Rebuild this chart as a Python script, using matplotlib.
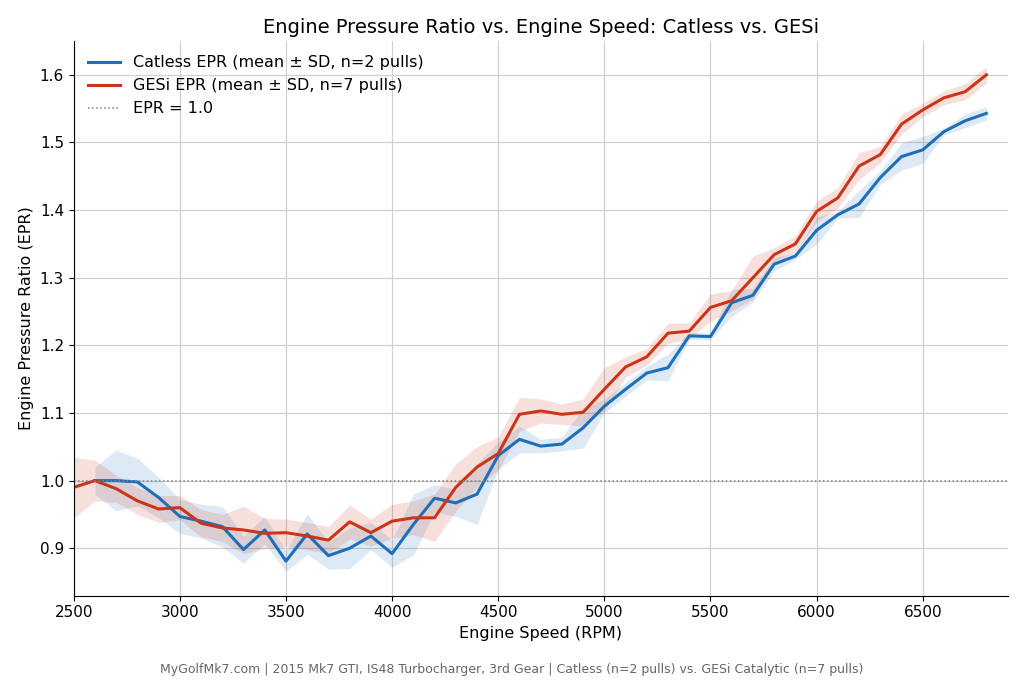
#!/usr/bin/env python3
"""EPR vs engine speed: Catless vs GESi."""

import matplotlib

matplotlib.use("Agg")

import matplotlib.pyplot as plt
import numpy as np

CATLESS_RPM = list(range(2600, 6900, 100))
CATLESS_EPR = [1.0, 1.0, 0.998, 0.975, 0.947, 0.94, 0.932, 0.898, 0.927, 0.881,
               0.921, 0.889, 0.9, 0.918, 0.892, 0.935, 0.974, 0.967, 0.98, 1.037,
               1.061, 1.051, 1.054, 1.078, 1.11, 1.135, 1.159, 1.167, 1.214, 1.213,
               1.263, 1.274, 1.32, 1.332, 1.37, 1.393, 1.409, 1.448, 1.479, 1.489,
               1.516, 1.532, 1.543]
CATLESS_SD = [0.02, 0.045, 0.035, 0.03, 0.025, 0.025, 0.03, 0.02, 0.02, 0.015,
              0.03, 0.02, 0.03, 0.02, 0.02, 0.045, 0.02, 0.02, 0.045, 0.02,
              0.02, 0.01, 0.01, 0.03, 0.01, 0.01, 0.01, 0.02, 0.005, 0.005,
              0.02, 0.01, 0.01, 0.005, 0.02, 0.005, 0.02, 0.01, 0.02, 0.02,
              0.005, 0.01, 0.01]

GESI_RPM = list(range(2500, 6900, 100))
GESI_EPR = [0.99, 1.0, 0.988, 0.97, 0.958, 0.96, 0.937, 0.93, 0.927, 0.922,
            0.923, 0.918, 0.912, 0.939, 0.923, 0.94, 0.945, 0.945, 0.99, 1.02,
            1.04, 1.098, 1.103, 1.098, 1.101, 1.135, 1.168, 1.183, 1.218, 1.221,
            1.256, 1.266, 1.3, 1.334, 1.35, 1.398, 1.418, 1.465, 1.482, 1.527,
            1.548, 1.566, 1.575, 1.6]
GESI_SD = [0.045, 0.03, 0.02, 0.02, 0.02, 0.018, 0.02, 0.02, 0.035, 0.022,
           0.02, 0.02, 0.02, 0.025, 0.02, 0.025, 0.025, 0.035, 0.035, 0.03,
           0.025, 0.025, 0.018, 0.015, 0.02, 0.032, 0.015, 0.012, 0.015, 0.012,
           0.02, 0.015, 0.032, 0.01, 0.012, 0.015, 0.015, 0.02, 0.012, 0.015,
           0.01, 0.01, 0.012, 0.012]

BLUE = "#1f6eb8"
RED = "#cc3418"

fig, ax = plt.subplots(figsize=(10.24, 6.83), dpi=100)

c_epr, c_sd = np.array(CATLESS_EPR), np.array(CATLESS_SD)
g_epr, g_sd = np.array(GESI_EPR), np.array(GESI_SD)

ax.fill_between(CATLESS_RPM, c_epr - c_sd, c_epr + c_sd, color=BLUE, alpha=0.15, linewidth=0)
ax.fill_between(GESI_RPM, g_epr - g_sd, g_epr + g_sd, color=RED, alpha=0.15, linewidth=0)
ax.plot(CATLESS_RPM, CATLESS_EPR, color=BLUE, linewidth=2.2, label="Catless EPR (mean ± SD, n=2 pulls)")
ax.plot(GESI_RPM, GESI_EPR, color=RED, linewidth=2.2, label="GESi EPR (mean ± SD, n=7 pulls)")
ax.axhline(1.0, color="gray", linestyle=":", linewidth=1.1, label="EPR = 1.0")

ax.set_xlim(2500, 6900)
ax.set_ylim(0.83, 1.65)
ax.set_xticks(range(2500, 7000, 500))
ax.grid(color="#d0d0d0", linewidth=0.9)
ax.set_axisbelow(True)
for side in ["top", "right"]:
    ax.spines[side].set_visible(False)
ax.tick_params(labelsize=11)

ax.set_xlabel("Engine Speed (RPM)", fontsize=11.5)
ax.set_ylabel("Engine Pressure Ratio (EPR)", fontsize=11.5)
ax.set_title("Engine Pressure Ratio vs. Engine Speed: Catless vs. GESi", fontsize=14)
ax.legend(loc="upper left", frameon=False, fontsize=11.5)

fig.text(0.5, 0.015,
         "MyGolfMk7.com | 2015 Mk7 GTI, IS48 Turbocharger, 3rd Gear | Catless (n=2 pulls) vs. GESi Catalytic (n=7 pulls)",
         ha="center", fontsize=9, color="#666666")
fig.subplots_adjust(left=0.072, right=0.984, top=0.94, bottom=0.128)
fig.savefig("out.png", dpi=100)
